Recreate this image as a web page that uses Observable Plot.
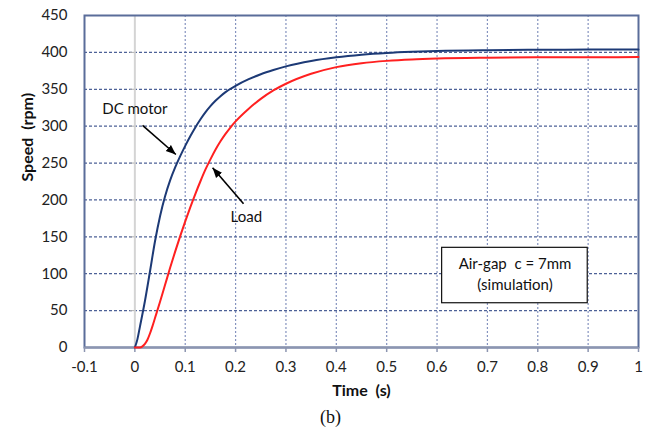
<!DOCTYPE html>
<html>
<head>
<meta charset="utf-8">
<script src="https://cdn.jsdelivr.net/npm/d3@7"></script>
<script src="https://cdn.jsdelivr.net/npm/@observablehq/plot@0.6"></script>
<style>
  html, body { margin: 0; padding: 0; background: #fff; }
  svg text { white-space: pre; }
</style>
</head>
<body>
<div id="chart"></div>
<script>
// ---- data ----
const dcTime  = [0, 0.005, 0.01, 0.02, 0.03, 0.04, 0.05, 0.06, 0.07, 0.08, 0.09, 0.10, 0.11, 0.12, 0.13, 0.14, 0.15, 0.16, 0.17, 0.18, 0.19, 0.20, 0.225, 0.25, 0.275, 0.30, 0.35, 0.40, 0.45, 0.50, 0.55, 0.60, 0.70, 0.80, 0.90, 1.00];
const dcSpeed = [0, 11, 28, 63, 103, 144, 178, 205, 226.5, 244, 259.3, 273.3, 286.3, 298.3, 309.1, 318.7, 327.1, 334.4, 340.7, 346.1, 350.7, 354.7, 363.3, 370.4, 376.1, 381, 388.3, 393.3, 396.8, 399.2, 400.8, 401.9, 403, 403.5, 403.8, 404];
const loadTime  = [0, 0.01, 0.015, 0.02, 0.025, 0.03, 0.035, 0.04, 0.05, 0.06, 0.07, 0.08, 0.09, 0.10, 0.11, 0.12, 0.13, 0.14, 0.15, 0.16, 0.17, 0.18, 0.19, 0.20, 0.225, 0.25, 0.275, 0.30, 0.35, 0.40, 0.45, 0.50, 0.55, 0.60, 0.70, 0.80, 0.90, 1.00];
const loadSpeed = [0, 0, 1.5, 5, 10.5, 19, 29, 40, 62, 85, 108, 130, 151, 171, 190, 208, 225, 241, 255, 268, 279.5, 289.5, 298.5, 306.5, 323, 337, 348.5, 357.5, 371, 380, 385.3, 388.5, 390.5, 391.7, 392.8, 393.3, 393.5, 393.6];

const xTicks = [-0.1, 0, 0.1, 0.2, 0.3, 0.4, 0.5, 0.6, 0.7, 0.8, 0.9, 1];
const xTickLabels = ["-0.1", "0", "0.1", "0.2", "0.3", "0.4", "0.5", "0.6", "0.7", "0.8", "0.9", "1"];
const yTicks = [0, 50, 100, 150, 200, 250, 300, 350, 400, 450];

const seriesNames = ["DC motor", "Load"];
const xLabel = "Time  (s)";
const yLabel = "Speed  (rpm)";
const caption = "(b)";
const boxLines = ["Air-gap  c = 7mm", "(simulation)"];

// annotation anchors (data units)
const annoText = [
  {label: seriesNames[0], t: 0.0, v: 322.6},
  {label: seriesNames[1], t: 0.2214, v: 176.6}
];
const annoArrows = [
  {t1: 0.0153, v1: 301, t2: 0.0814, v2: 261.6},
  {t1: 0.2158, v1: 194.8, t2: 0.1543, v2: 243.6}
];
const boxExtent = {t1: 0.6101, t2: 0.8992, v1: 60, v2: 135.1};
const boxText = [
  {label: boxLines[0], t: 0.7548, v: 113.4},
  {label: boxLines[1], t: 0.7548, v: 84.0}
];

const dcData = dcTime.map((t, i) => ({t, v: dcSpeed[i]}));
const loadData = loadTime.map((t, i) => ({t, v: loadSpeed[i]}));

function filledArrow(color) {
  const ns = "http://www.w3.org/2000/svg";
  const m = document.createElementNS(ns, "marker");
  m.setAttribute("viewBox", "-10 -5 10 10");
  m.setAttribute("markerUnits", "userSpaceOnUse");
  m.setAttribute("markerWidth", 10);
  m.setAttribute("markerHeight", 10);
  m.setAttribute("refX", 0);
  m.setAttribute("refY", 0);
  m.setAttribute("orient", "auto");
  const p = document.createElementNS(ns, "path");
  p.setAttribute("d", "M-10,-4L0,0L-10,4Z");
  p.setAttribute("fill", color);
  p.setAttribute("stroke", "none");
  m.appendChild(p);
  return m;
}

const gridX = xTicks.filter(d => d !== -0.1 && d !== 0 && d !== 1);
const gridY = yTicks.filter(d => d !== 0 && d !== 450);
const fmtX = d => xTickLabels[xTicks.findIndex(x => Math.abs(x - d) < 1e-9)];

const chart = Plot.plot({
  width: 658,
  height: 436,
  marginLeft: 84,
  marginRight: 20,
  marginTop: 15,
  marginBottom: 89,
  style: {fontFamily: "Lato, 'Open Sans', sans-serif", fontSize: "15px", color: "#222", background: "#fff"},
  x: {type: "linear", domain: [-0.1, 1], ticks: xTicks, tickFormat: fmtX},
  y: {type: "linear", domain: [0, 450], ticks: yTicks},
  marks: [
    // grid
    Plot.ruleX(gridX, {stroke: "#8593bf", strokeWidth: 1.2, strokeDasharray: "2,2"}),
    Plot.ruleY(gridY, {stroke: "#4d6197", strokeWidth: 1.2, strokeDasharray: "3,2"}),
    // zero line with small tick marks
    Plot.ruleX([0], {stroke: "#d4d4d4", strokeWidth: 2}),
    Plot.ruleY(gridY, {y: d => d, x1: -0.009, x2: 0, stroke: "#b0b0b0", strokeWidth: 1}),
    // frame
    Plot.frame({stroke: "#5a6d9a", strokeWidth: 2}),
    Plot.ruleY([0], {stroke: "#8c95b0", strokeWidth: 2}),
    // axes
    Plot.axisX({ticks: xTicks, tickFormat: fmtX, tickSize: 5, tickPadding: 9, stroke: "#8c95b0", strokeWidth: 1.5, color: "#222", label: null}),
    Plot.axisY({ticks: yTicks, tickSize: 0, tickPadding: 17, color: "#222", label: null}),
    Plot.text([xLabel], {frameAnchor: "bottom", dy: 48, fontWeight: "bold", fontSize: 16, fill: "#111"}),
    Plot.text([yLabel], {frameAnchor: "left", dx: -57, rotate: -90, fontWeight: "bold", fontSize: 16, fill: "#111"}),
    Plot.text([caption], {frameAnchor: "bottom", dx: -31, dy: 75, fontFamily: "'Liberation Serif', 'DejaVu Serif', serif", fontSize: 18, fill: "#111"}),
    // curves
    Plot.line(dcData, {x: "t", y: "v", stroke: "#1d3a76", strokeWidth: 2, curve: "monotone-x"}),
    Plot.line(loadData, {x: "t", y: "v", stroke: "#ff2020", strokeWidth: 2, curve: "monotone-x"}),
    // annotations
    Plot.text(annoText, {x: "t", y: "v", text: "label", fill: "#111", fontSize: 15}),
    Plot.link(annoArrows, {x1: "t1", y1: "v1", x2: "t2", y2: "v2", stroke: "#000", strokeWidth: 1.6, markerEnd: filledArrow}),
    // info box
    Plot.rect([boxExtent], {x1: "t1", x2: "t2", y1: "v1", y2: "v2", fill: "#fff", stroke: "#111", strokeWidth: 1.2}),
    Plot.text(boxText, {x: "t", y: "v", text: "label", fill: "#111", fontSize: 15})
  ]
});
document.getElementById("chart").appendChild(chart);
</script>
</body>
</html>
